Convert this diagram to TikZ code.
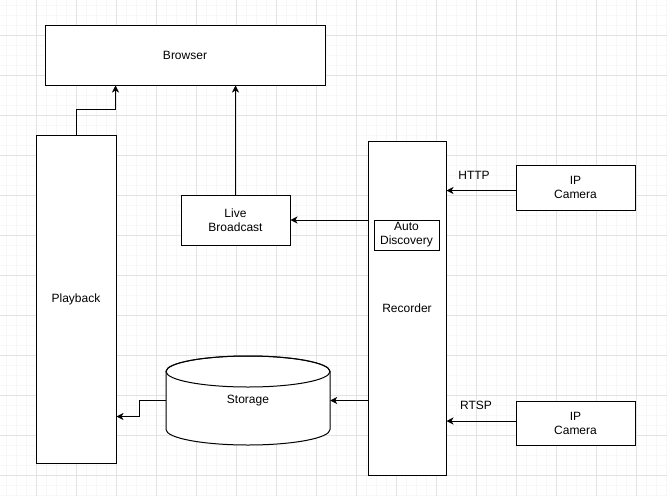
\documentclass[tikz,border=0pt]{standalone}
\usepackage{fontspec}
\setmainfont{Liberation Sans}
\usetikzlibrary{arrows.meta}

\begin{document}
\begin{tikzpicture}[x=1pt,y=-1pt,
  box/.style={draw=black, fill=white, line width=1pt, inner sep=0pt,
    align=center, font=\fontsize{12}{14}\selectfont},
  conn/.style={draw=black, line width=1pt,
    -{Stealth[length=7pt,width=7pt,inset=2pt]}},
  lbl/.style={inner sep=0pt, font=\fontsize{12}{14}\selectfont},
  minorgrid/.style={draw=black!3, line width=0.6pt},
  majorgrid/.style={draw=black!11, line width=0.8pt}]

  % canvas and background grid
  \useasboundingbox (0,0) rectangle (667,496);
  \fill[white] (0,0) rectangle (667,496);
  \foreach \x in {6,16,...,666} \draw[minorgrid] (\x,0) -- (\x,496);
  \foreach \y in {5,15,...,495} \draw[minorgrid] (0,\y) -- (667,\y);
  \foreach \x in {36,76,...,636} \draw[majorgrid] (\x,0) -- (\x,496);
  \foreach \y in {35,75,...,475} \draw[majorgrid] (0,\y) -- (667,\y);

  % components
  \node[box, minimum width=280, minimum height=60] (browser) at (185,55) {Browser};
  \node[box, minimum width=80, minimum height=328] (playback) at (76,299) {Playback};
  \node[box, minimum width=109, minimum height=50] (live) at (235.5,220) {Live\\Broadcast};
  \node[box, minimum width=78, minimum height=334] (recorder) at (407,308) {Recorder};
  \node[box, minimum width=65, minimum height=30] (auto) at (406.5,235) {Auto\\Discovery};
  \node[box, minimum width=119, minimum height=45] (cam1) at (575.5,187.5) {IP\\Camera};
  \node[box, minimum width=119, minimum height=44] (cam2) at (575.5,423) {IP\\Camera};

  % storage cylinder
  \node[inner sep=0pt, minimum width=164, minimum height=89] (storage) at (248,400.5) {};
  \filldraw[fill=white, draw=black, line width=1pt]
    (166,371.5) -- (166,429.5) arc[start angle=180, end angle=360, x radius=82, y radius=-15.5]
    -- (330,371.5) arc[start angle=0, end angle=180, x radius=82, y radius=-15.5] -- cycle;
  \draw[black, line width=1pt] (248,371.5) ellipse[x radius=82, y radius=15.5];
  \node[lbl] (storagetext) at (storage.center) {Storage};

  % connectors
  \draw[conn] (playback.north) -- ++(0,-25) -| ([xshift=71pt]browser.south west);
  \draw[conn] (live.north) -- (live.north |- browser.south);
  \draw[conn] (live.east -| recorder.west) -- (live.east);
  \draw[conn] ([yshift=-3pt]cam1.west) -- ([yshift=-3pt]cam1.west -| recorder.east);
  \draw[conn] ([yshift=2pt]cam2.west) -- ([yshift=2pt]cam2.west -| recorder.east);
  \draw[conn] (storage.east -| recorder.west) -- (storage.east);
  \draw[conn] (storage.west) -- ++(-26,0) |- ([yshift=-16pt]storage.west -| playback.east);

  % protocol labels
  \node[lbl] (http) at (474,175) {HTTP};
  \node[lbl] (rtsp) at (476,405) {RTSP};
\end{tikzpicture}
\end{document}
